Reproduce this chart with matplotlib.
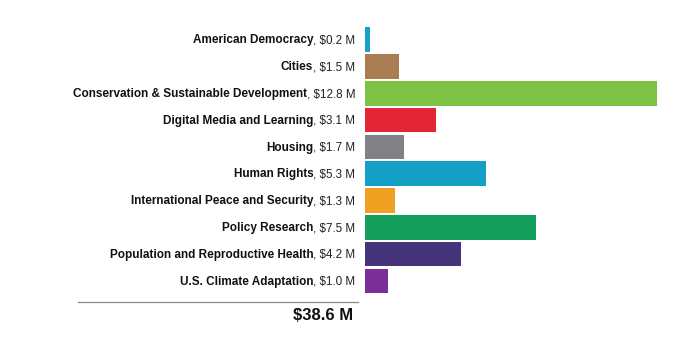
import matplotlib.pyplot as plt
from matplotlib.lines import Line2D

plt.rcParams['font.family'] = ['Liberation Sans', 'DejaVu Sans']

categories = [
    "American Democracy",
    "Cities",
    "Conservation & Sustainable Development",
    "Digital Media and Learning",
    "Housing",
    "Human Rights",
    "International Peace and Security",
    "Policy Research",
    "Population and Reproductive Health",
    "U.S. Climate Adaptation",
]
amounts = [0.2, 1.5, 12.8, 3.1, 1.7, 5.3, 1.3, 7.5, 4.2, 1.0]
colors = ["#1aa1c9", "#a97c52", "#7dc242", "#e32636", "#808184",
          "#149fc6", "#f0a122", "#139f5b", "#45347b", "#7a2f97"]
total_label = "$38.6 M"


def main():
    fig = plt.figure(figsize=(7, 3.54), dpi=100)
    ax = fig.add_axes([365 / 700, 1 - 294.3 / 354, 325 / 700, 268.1 / 354])

    y = list(range(len(categories)))
    ax.barh(y, amounts, height=0.92, color=colors, edgecolor="none")
    ax.set_xlim(0, 325 / 22.8)
    ax.set_ylim(len(categories) - 0.5, -0.5)
    ax.axis("off")

    for i, (name, amt) in enumerate(zip(categories, amounts)):
        reg = ax.annotate(f", ${amt:.1f} M", xy=(0, i),
                          xycoords=("axes fraction", "data"),
                          xytext=(-7, -0.6), textcoords="offset points",
                          ha="right", va="center", fontsize=8.4, color="#222222")
        ax.annotate(name, xy=(0, 0.5), xycoords=reg,
                    ha="right", va="center", fontsize=8.5,
                    fontweight="bold", color="#111111")

    fig.add_artist(Line2D([78 / 700, 358 / 700], [1 - 302 / 354] * 2,
                          color="#888888", linewidth=0.9))
    fig.text(353 / 700, 1 - 316 / 354, total_label, ha="right", va="center",
             fontsize=12, fontweight="bold", color="#111111")

    fig.savefig("out.png", dpi=100)


if __name__ == "__main__":
    main()
